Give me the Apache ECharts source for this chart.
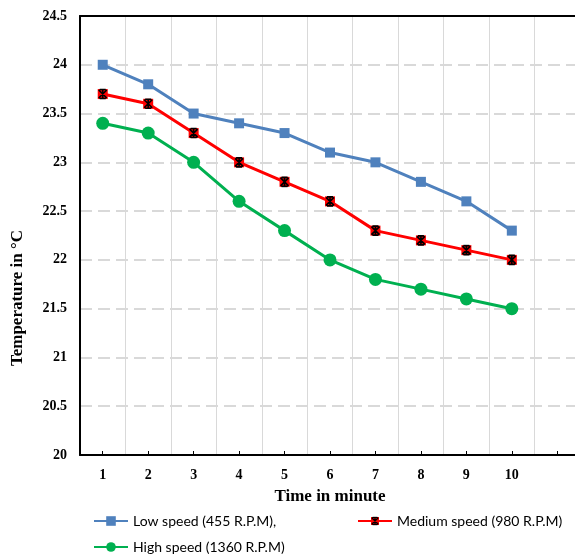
<!DOCTYPE html>
<html>
<head>
<meta charset="utf-8">
<script src="https://cdn.jsdelivr.net/npm/echarts@6/dist/echarts.min.js"></script>
<style>
  html, body { margin: 0; padding: 0; background: #fff; }
  #chart { width: 575px; height: 554px; }
</style>
</head>
<body>
<div id="chart"></div>
<script>
// 数据
var minutes = ['1', '2', '3', '4', '5', '6', '7', '8', '9', '10', ''];
var lowSpeed = [24, 23.8, 23.5, 23.4, 23.3, 23.1, 23.0, 22.8, 22.6, 22.3];
var mediumSpeed = [23.7, 23.6, 23.3, 23.0, 22.8, 22.6, 22.3, 22.2, 22.1, 22.0];
var highSpeed = [23.4, 23.3, 23.0, 22.6, 22.3, 22.0, 21.8, 21.7, 21.6, 21.5];

var serif = '"Liberation Serif", "Times New Roman", serif';
var sans = 'Lato, "Open Sans", sans-serif';

// 红色方块 + 黑色星号的标记
var starSvg = "<svg xmlns='http://www.w3.org/2000/svg' width='12' height='12' viewBox='0 0 12 12'>" +
    "<rect x='1' y='1' width='10' height='10' fill='#ff0000'/>" +
    "<path d='M2 2L10 10M10 2L2 10M6 1V11M3 1.5H9M3 10.5H9' stroke='#000' stroke-width='1.6'/></svg>";
var starSymbol = 'image://data:image/svg+xml;charset=utf-8,' + encodeURIComponent(starSvg);

var option = {
    animation: false,
    backgroundColor: '#fff',
    grid: { left: 80, right: -5, top: 16, bottom: 99, containLabel: false, outerBoundsMode: 'none' },
    legend: [
        {
            data: ['Low speed (455 R.P.M),', 'High speed (1360 R.P.M)'],
            orient: 'vertical',
            left: 88, top: 509, height: 60,
            itemWidth: 34, itemHeight: 12, itemGap: 12,
            textStyle: { fontFamily: sans, fontSize: 14, color: '#000' }
        },
        {
            data: ['Medium speed (980 R.P.M)'],
            left: 352, top: 509,
            itemWidth: 34, itemHeight: 12,
            textStyle: { fontFamily: sans, fontSize: 14, color: '#000' }
        }
    ],
    xAxis: [
        {
            type: 'category',
            data: minutes,
            boundaryGap: true,
            name: 'Time in minute',
            nameLocation: 'middle',
            nameGap: 33,
            nameTextStyle: { fontFamily: serif, fontWeight: 'bold', fontSize: 17, color: '#000' },
            axisLine: { lineStyle: { color: '#000', width: 2 } },
            axisTick: { show: true, inside: true, alignWithLabel: true, length: 4, lineStyle: { color: '#000' } },
            axisLabel: { fontFamily: serif, fontWeight: 'bold', fontSize: 14, color: '#000', margin: 13 },
            splitLine: { show: true, lineStyle: { color: '#d9d9d9', width: 1 } }
        },
        {
            type: 'category',
            data: minutes,
            position: 'top',
            axisLine: { lineStyle: { color: '#000', width: 2 } },
            axisTick: { show: false },
            axisLabel: { show: false },
            splitLine: { show: false }
        }
    ],
    yAxis: {
        type: 'value',
        min: 20, max: 24.5, interval: 0.5,
        name: 'Temperature in \u00B0C',
        nameLocation: 'middle',
        nameGap: 54,
        nameTextStyle: { fontFamily: serif, fontWeight: 'bold', fontSize: 17, color: '#000', padding: [0, 125, 0, 0] },
        axisLine: { show: true, lineStyle: { color: '#000', width: 2 } },
        axisTick: { show: false },
        axisLabel: { fontFamily: serif, fontWeight: 'bold', fontSize: 14, color: '#000', margin: 13 },
        splitLine: { show: true, lineStyle: { color: '#d9d9d9', width: 2, type: [12, 6] } }
    },
    series: [
        {
            name: 'Low speed (455 R.P.M),',
            type: 'line',
            data: lowSpeed,
            symbol: 'rect', symbolSize: 10,
            lineStyle: { color: '#4f81bd', width: 3 },
            itemStyle: { color: '#4f81bd' }
        },
        {
            name: 'Medium speed (980 R.P.M)',
            type: 'line',
            data: mediumSpeed,
            symbol: starSymbol, symbolSize: 12,
            lineStyle: { color: '#ff0000', width: 3 },
            itemStyle: { color: '#ff0000' }
        },
        {
            name: 'High speed (1360 R.P.M)',
            type: 'line',
            data: highSpeed,
            symbol: 'circle', symbolSize: 13,
            lineStyle: { color: '#00b050', width: 3 },
            itemStyle: { color: '#00b050' }
        }
    ]
};

var chart = echarts.init(document.getElementById('chart'));
chart.setOption(option);
</script>
</body>
</html>
